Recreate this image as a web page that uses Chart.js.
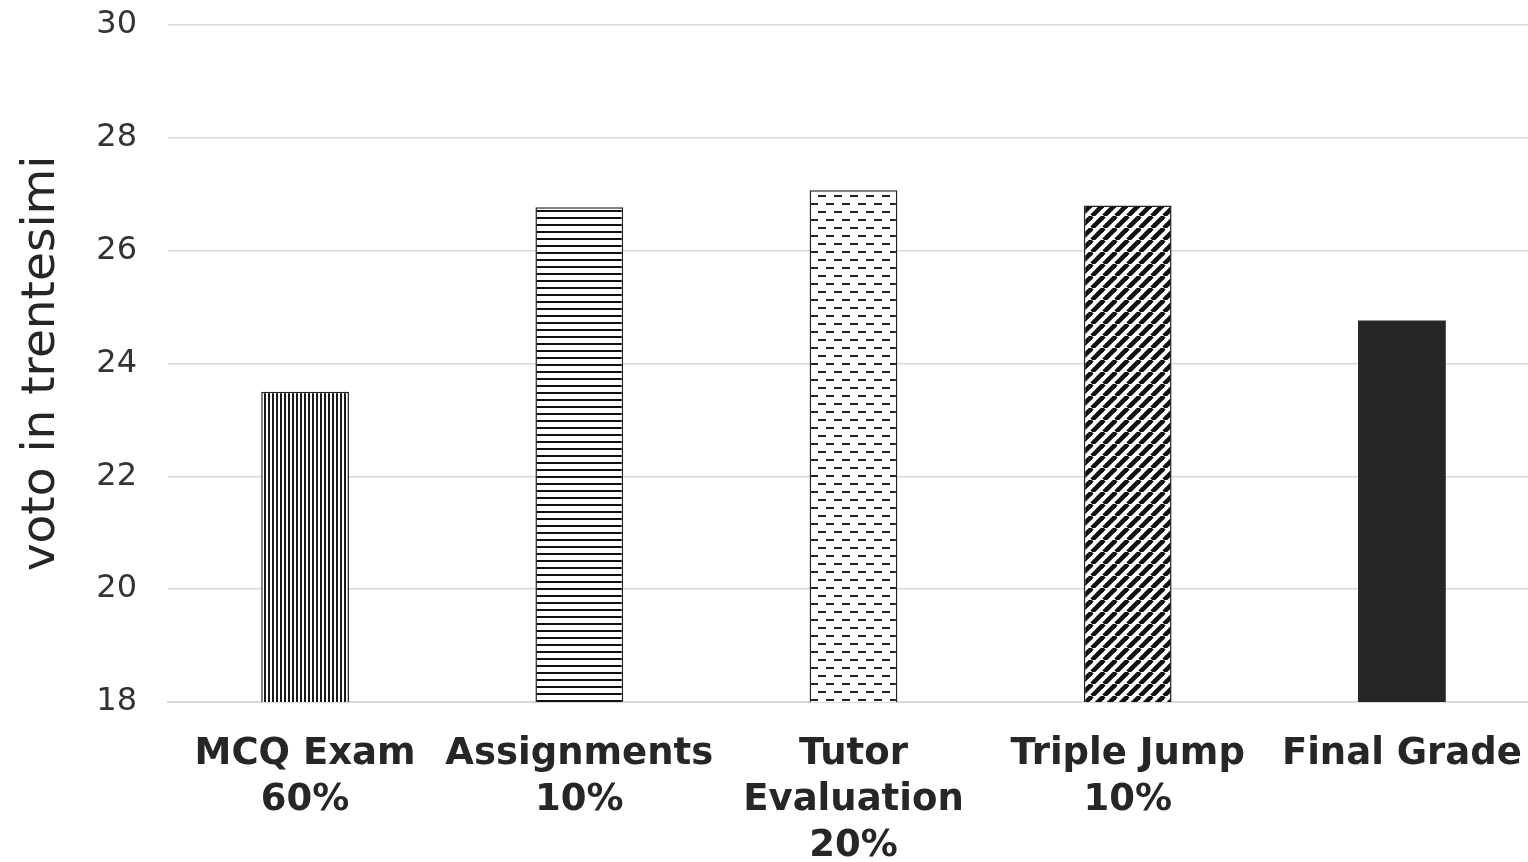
<!DOCTYPE html>
<html>
<head>
<meta charset="utf-8">
<script src="https://cdn.jsdelivr.net/npm/chart.js@4"></script>
<style>
html,body{margin:0;padding:0;background:#fff;overflow:hidden;width:1528px;height:862px;}
#c{display:block;}
</style>
</head>
<body>
<canvas id="c" width="1539" height="862"></canvas>
<script>
const categories = [["MCQ Exam","60%"],["Assignments","10%"],["Tutor","Evaluation","20%"],["Triple Jump","10%"],["Final Grade"]];
const grades = [23.5, 26.77, 27.07, 26.8, 24.76];
const yTicks = [18, 20, 22, 24, 26, 28, 30];
const yTitle = "voto in trentesimi";

function makePattern(kind){
  const c = document.createElement('canvas');
  const ctx = c.getContext('2d');
  if(kind==='vert'){
    c.width=4;c.height=4;
    ctx.fillStyle='#fff';ctx.fillRect(0,0,4,4);
    ctx.fillStyle='#1a1a1a';ctx.fillRect(0,0,2,4);
  } else if(kind==='horiz'){
    c.width=8;c.height=7;
    ctx.fillStyle='#fff';ctx.fillRect(0,0,8,7);
    ctx.fillStyle='#111';ctx.fillRect(0,0,8,2);
  } else if(kind==='dash'){
    c.width=16;c.height=16;
    ctx.fillStyle='#fff';ctx.fillRect(0,0,16,16);
    ctx.fillStyle='#222';
    ctx.fillRect(2,3,8,2);
    ctx.fillRect(10,11,8,2);ctx.fillRect(-6,11,8,2);
  } else if(kind==='diag'){
    const s=12;
    c.width=s;c.height=s;
    ctx.fillStyle='#fff';ctx.fillRect(0,0,s,s);
    ctx.strokeStyle='#111';ctx.lineWidth=4.6;
    for(const o of [-s,0,s]){
      ctx.beginPath();ctx.moveTo(o,s);ctx.lineTo(o+s,0);ctx.stroke();
    }
  }
  return document.getElementById('c').getContext('2d').createPattern(c,'repeat');
}

const fills = [makePattern('vert'), makePattern('horiz'), makePattern('dash'), makePattern('diag'), '#262626'];
const borders = ['#222','#222','#222','#222','#262626'];

new Chart(document.getElementById('c'), {
  type: 'bar',
  data: {
    labels: categories,
    datasets: [{
      data: grades,
      backgroundColor: fills,
      borderColor: borders,
      borderWidth: [1.5,1.5,1.5,1.5,0],
      barPercentage: 0.32,
      categoryPercentage: 1.0
    }]
  },
  options: {
    responsive: false,
    devicePixelRatio: 1,
    animation: false,
    layout: { padding: { top: 25, right: 0, bottom: 0, left: 16 } },
    plugins: { legend: { display: false }, tooltip: { enabled: false } },
    scales: {
      x: {
        grid: { display: false },
        border: { display: true, color: '#d9d9d9', width: 2 },
        afterFit: (axis) => { axis.height = 160; axis.paddingLeft = 0; axis.paddingRight = 0; },
        ticks: {
          color: '#262626',
          font: { family: 'DejaVu Sans', size: 37, weight: 'bold', lineHeight: 1.25 },
          padding: 21,
          maxRotation: 0,
          autoSkip: false
        }
      },
      y: {
        min: 18, max: 30,
        afterBuildTicks: (axis) => { axis.ticks = yTicks.map(v => ({ value: v })); },
        afterFit: (axis) => { axis.width = 152; axis.paddingTop = 0; axis.paddingBottom = 0; },
        grid: { color: '#d9d9d9', lineWidth: 1.5, drawTicks: false },
        border: { display: false },
        ticks: {
          color: '#333333',
          font: { family: 'DejaVu Sans', size: 32 },
          padding: 31
        },
        title: {
          display: true,
          text: yTitle,
          color: '#262626',
          font: { family: 'DejaVu Sans', size: 47, lineHeight: 1.1 },
          padding: { top: 0, bottom: 18 }
        }
      }
    }
  }
});
</script>
</body>
</html>
